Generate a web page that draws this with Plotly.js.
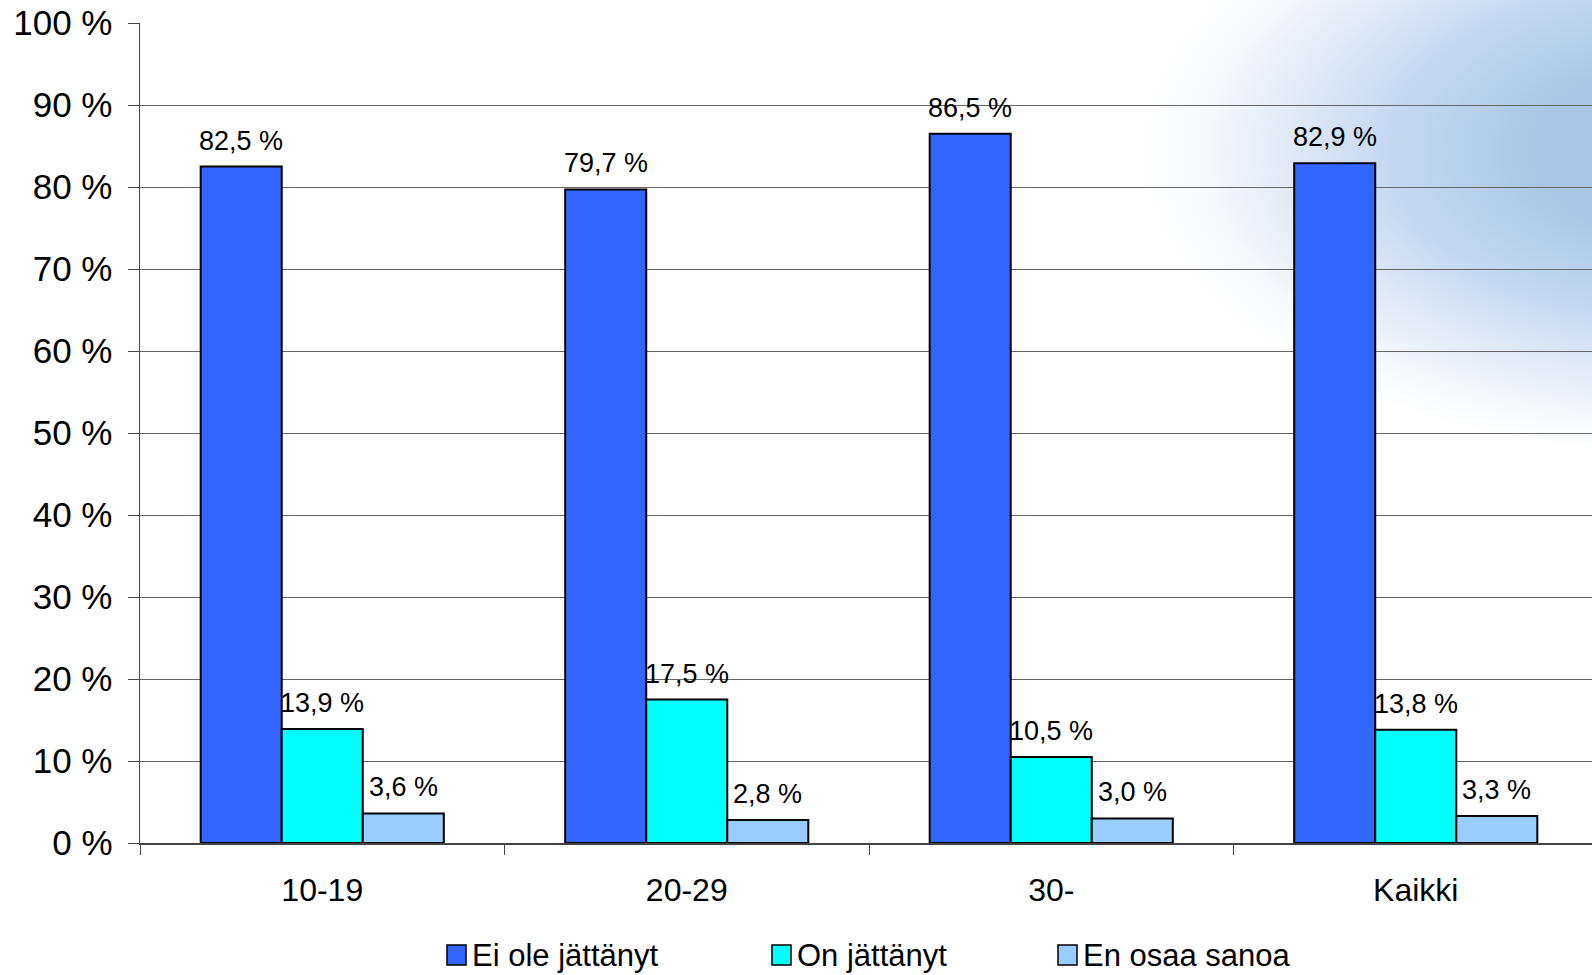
<!DOCTYPE html>
<html><head><meta charset="utf-8">
<script src="https://cdn.plot.ly/plotly-3.0.1.min.js"></script>
<style>html,body{margin:0;padding:0;background:#fff;overflow:hidden}</style>
</head><body><div id="chart" style="width:1592px;height:975px"></div>
<script>
// ---- data ----
const categories = ['10-19', '20-29', '30-', 'Kaikki'];
const seriesNames = ['Ei ole jättänyt', 'On jättänyt', 'En osaa sanoa'];
const eiOleJattanyt = [82.5, 79.7, 86.5, 82.9];
const onJattanyt = [13.9, 17.5, 10.5, 13.8];
const enOsaaSanoa = [3.6, 2.8, 3.0, 3.3];
const seriesColors = ['#3366FF', '#00FFFF', '#99CCFF'];
const seriesValues = [eiOleJattanyt, onJattanyt, enOsaaSanoa];

// ---- geometry ----
const W = 1592, H = 975;
const mL = 140, mR = 0, mT = 23, mB = 132;
const plotW = W - mL - mR, plotH = H - mT - mB;
const catPx = 364.5;
const bargap = 0.333;
const barW = (1 - bargap) / seriesNames.length;
const px2x = px => (px - mL) / plotW;
const py2y = py => (H - mB - py) / plotH;
const FONT = 'Liberation Sans, Arial, sans-serif';
const fmt = v => v.toFixed(1).replace('.', ',') + ' %';

const traces = seriesNames.map((name, i) => ({
  type: 'bar',
  name: name,
  x: categories,
  y: seriesValues[i],
  marker: { color: seriesColors[i], line: { color: '#000', width: 2 } },
  hoverinfo: 'skip',
  showlegend: false
}));

const annotations = [];
seriesValues.forEach((vals, i) => {
  vals.forEach((v, j) => {
    annotations.push({
      xref: 'x', yref: 'y',
      x: j + (i - (seriesNames.length - 1) / 2) * barW,
      y: v,
      text: fmt(v),
      showarrow: false,
      xanchor: 'center', yanchor: 'bottom',
      yshift: 9,
      font: { family: FONT, size: 27, color: '#000' }
    });
  });
});

// custom legend
const legendPx = [447, 772, 1058];
const legendY = 955;
const shapes = [];
seriesNames.forEach((name, i) => {
  shapes.push({
    type: 'rect', xref: 'paper', yref: 'paper',
    x0: px2x(legendPx[i]), x1: px2x(legendPx[i] + 19),
    y0: py2y(legendY - 10), y1: py2y(legendY + 10),
    fillcolor: seriesColors[i], line: { color: '#000', width: 1.5 }
  });
  annotations.push({
    xref: 'paper', yref: 'paper',
    x: px2x(legendPx[i] + 23), y: py2y(legendY),
    xanchor: 'left', yanchor: 'middle',
    text: name, showarrow: false,
    font: { family: FONT, size: 31, color: '#000' }
  });
});

const gradSvg = `<svg xmlns="http://www.w3.org/2000/svg" width="${W}" height="${H}" viewBox="0 0 ${W} ${H}"><defs><radialGradient id="g" gradientUnits="userSpaceOnUse" cx="1700" cy="150" r="560" gradientTransform="translate(1700 150) scale(1 0.55) translate(-1700 -150)"><stop offset="0" stop-color="#a4c3e4"/><stop offset="0.3" stop-color="#aac7e7"/><stop offset="0.55" stop-color="#c5d8f0"/><stop offset="0.72" stop-color="#dfe8f5"/><stop offset="0.88" stop-color="#f5f8fc"/><stop offset="1" stop-color="#ffffff"/></radialGradient></defs><rect width="${W}" height="${H}" fill="url(#g)"/></svg>`;

const layout = {
  width: W, height: H,
  margin: { l: mL, r: mR, t: mT, b: mB, pad: 0, autoexpand: false },
  paper_bgcolor: '#ffffff',
  plot_bgcolor: 'rgba(0,0,0,0)',
  barmode: 'group',
  bargap: bargap,
  bargroupgap: 0,
  showlegend: false,
  font: { family: FONT, color: '#000' },
  xaxis: {
    type: 'category',
    range: [-0.5, -0.5 + plotW / catPx],
    tickson: 'boundaries',
    ticks: 'outside', ticklen: 10, tickcolor: '#444', tickwidth: 1,
    showline: true, linecolor: '#444', linewidth: 1.5,
    showgrid: false, zeroline: false,
    tickfont: { family: FONT, size: 32, color: '#000' },
    ticklabelstandoff: 18,
    fixedrange: true
  },
  yaxis: {
    range: [0, 100],
    tick0: 0, dtick: 10,
    ticksuffix: ' %',
    ticks: 'outside', ticklen: 11, tickcolor: '#444', tickwidth: 1,
    showline: true, linecolor: '#444', linewidth: 1.5,
    showgrid: true, gridcolor: '#666666', gridwidth: 1,
    zeroline: false,
    tickfont: { family: FONT, size: 35, color: '#000' },
    ticklabelstandoff: 8,
    fixedrange: true
  },
  images: [{
    source: 'data:image/svg+xml;charset=utf-8,' + encodeURIComponent(gradSvg),
    xref: 'paper', yref: 'paper',
    x: px2x(0), y: py2y(0),
    sizex: W / plotW, sizey: H / plotH,
    xanchor: 'left', yanchor: 'top',
    sizing: 'stretch', layer: 'below'
  }],
  shapes: shapes,
  annotations: annotations
};

Plotly.newPlot('chart', traces, layout, { staticPlot: true, displayModeBar: false });
</script>
</body></html>
